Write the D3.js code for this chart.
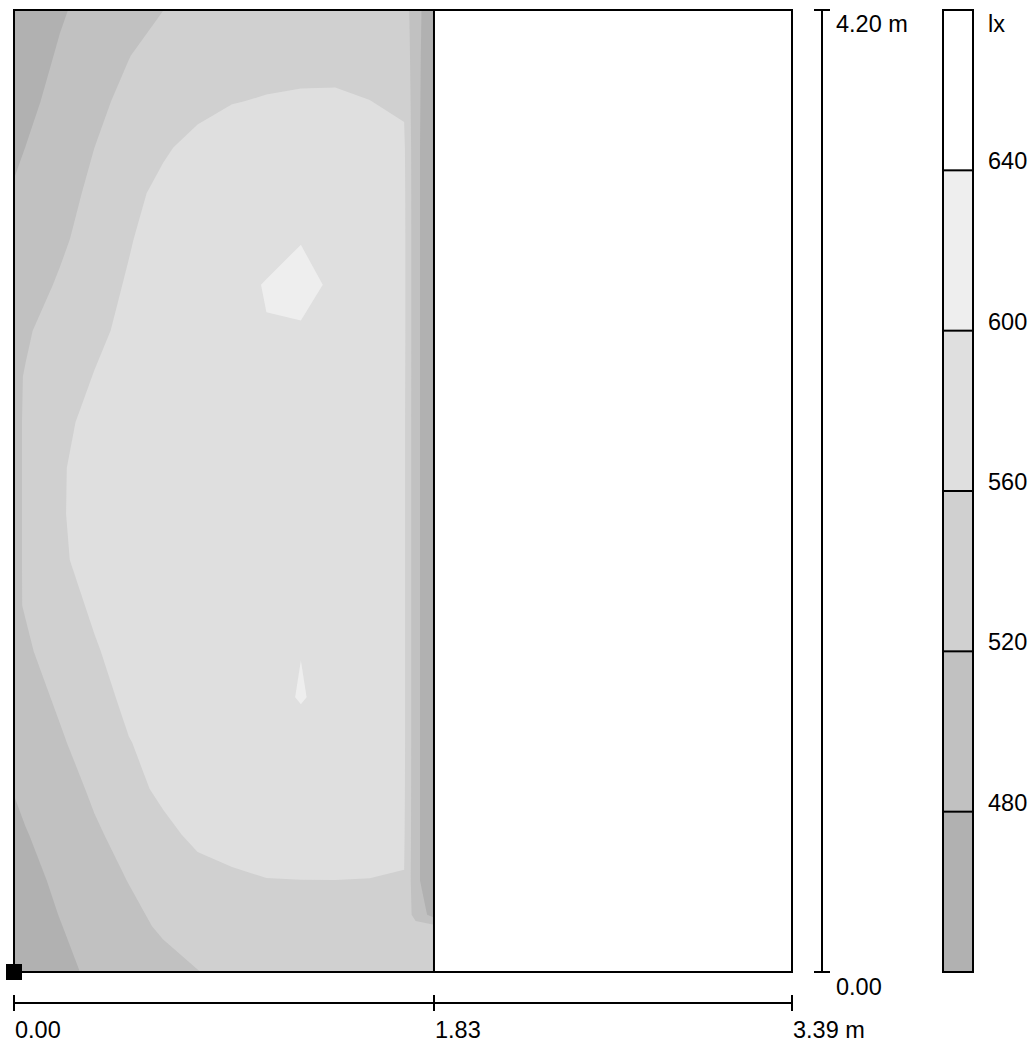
<!DOCTYPE html>
<html><head><meta charset="utf-8">
<script src="https://cdn.jsdelivr.net/npm/d3@7"></script>
<style>
body{margin:0;background:#fff}
svg{display:block}
text{font-family:"Liberation Sans",Arial,sans-serif;font-size:23.5px;fill:#000}
</style>
</head><body>
<svg id="chart" width="1032" height="1044"></svg>
<script>
// ---- data ----
const roomWidth = 3.39;          // m
const roomDepth = 4.20;          // m
const calcWidth = 1.83;          // m (calculated surface)
// calculation grid positions (m)
const gridX = [0, 0.05, 0.2, 0.35, 0.5, 0.65, 0.8, 0.95, 1.1, 1.25, 1.4, 1.55, 1.7, 1.75, 1.83];
const gridY = [4.2, 4.0, 3.8, 3.6, 3.4, 3.2, 3.0, 2.8, 2.6, 2.4, 2.2, 2.0, 1.8, 1.6, 1.4, 1.2, 1.0, 0.8, 0.6, 0.4, 0.25, 0.2, 0.0];
// illuminance (lx), one row per gridY, one column per gridX
const illuminance = [
  [457, 462, 476.6, 491, 505.6, 519.8, 532, 541, 547, 551, 552, 550, 540, 495, 448],
  [459.4, 465.4, 483.3, 501.2, 519.2, 533, 541, 546, 549, 550, 551, 552, 548, 493, 447],
  [464.6, 471.3, 491.2, 512.5, 528, 538, 548, 559, 562, 564, 564, 560.3, 556, 492, 446],
  [473.5, 480.2, 500.1, 519.9, 537.5, 555, 572, 576, 579, 581, 581, 577, 565, 491, 445],
  [483, 490, 506.5, 527.8, 549.2, 570, 578, 584, 588, 590, 589, 583, 567, 491, 445],
  [486, 492, 513.7, 535.3, 557, 578, 586, 591, 590, 599, 597, 588, 568, 491, 445],
  [497.6, 504.2, 524, 543.8, 563.7, 578, 587, 592, 601.5, 607, 596, 588, 568, 491, 445],
  [510.4, 516.3, 534, 551.6, 569.4, 580, 588, 593, 599, 598, 596, 589, 568, 491, 445],
  [514.8, 521.5, 541.4, 561.3, 575, 583, 589, 592, 594, 595, 594, 588, 567, 491, 445],
  [515, 522.2, 548.4, 574, 582, 587, 590, 592, 593, 594, 593, 587, 566, 491, 445],
  [515, 522.2, 556, 576, 584, 588, 590, 592, 593, 593, 592, 586, 566, 491, 445],
  [515, 522.2, 556.5, 576, 584, 588, 590, 591, 592, 592, 591, 585, 566, 491, 445],
  [515, 522.2, 554, 575, 583, 587, 589, 590, 591, 591, 590, 584, 566, 491, 445],
  [515, 522, 544, 566, 578, 584, 587, 589, 590, 591, 590, 584, 566, 491, 445],
  [508.2, 515.1, 535.7, 556.3, 576, 583, 587, 589, 590, 599.5, 590, 584, 566, 491, 445],
  [497.7, 504.8, 525.8, 546.9, 568, 579, 585, 588, 590, 602, 590, 584, 566, 491, 445],
  [486.9, 494, 515.6, 537, 558.6, 572, 580, 584, 587, 589, 588, 583, 566, 491, 445],
  [481.4, 489, 504, 525.9, 547.8, 568, 575, 579, 582, 584, 584, 580, 565, 491, 445],
  [472, 478.1, 496.5, 514.9, 532.8, 550.5, 568.3, 573, 575, 576, 576, 574, 563, 491, 445],
  [463.6, 469.3, 486.6, 503.8, 521, 536, 546.5, 554.7, 559.2, 559.8, 559.9, 559.3, 559.1, 491, 445],
  [459.8, 465, 480.8, 496.5, 512.3, 528, 538, 544, 548, 550, 551, 551, 548, 505, 465],
  [458.4, 463.5, 478.8, 494.2, 509.6, 525, 534, 540, 544, 546, 547, 547, 545, 532, 528],
  [458, 461.8, 473.3, 484.8, 496.3, 507.7, 519.2, 528, 533, 536, 537, 537, 536, 533, 530]
];
const thresholds = [480, 520, 560, 600, 640];
const bandColors = ["#b1b1b1", "#c1c1c1", "#d0d0d0", "#dfdfdf", "#eeeeee", "#ffffff"];
const legendDomain = [440, 680];
const legendLabels = ["640", "600", "560", "520", "480"];
const unitLabel = "lx";
const xTicks = [0, 1.83, 3.39];
const xTickLabels = ["0.00", "1.83", "3.39 m"];
const yTicks = [0, 4.20];
const yTickLabels = ["0.00", "4.20 m"];

// ---- scales ----
const svg = d3.select("#chart");
const x = d3.scaleLinear().domain([0, roomWidth]).range([14, 792]);
const y = d3.scaleLinear().domain([0, roomDepth]).range([972, 10]);
const nx = gridX.length, ny = gridY.length;
const gx = d3.scaleLinear().domain(d3.range(nx).map(i => i + 0.5)).range(gridX).clamp(true);
const gy = d3.scaleLinear().domain(d3.range(ny).map(i => i + 0.5)).range(gridY).clamp(true);
const proj = d3.geoTransform({point(px, py) { this.stream.point(x(gx(px)), y(gy(py))); }});
const path = d3.geoPath(proj);

// ---- isolux bands ----
const g = svg.append("g");
g.append("rect")
  .attr("x", x(0)).attr("y", y(roomDepth))
  .attr("width", x(calcWidth) - x(0)).attr("height", y(0) - y(roomDepth))
  .attr("fill", bandColors[0]);
const contours = d3.contours().size([nx, ny]).thresholds(thresholds)(illuminance.flat());
g.selectAll("path.band").data(contours).join("path")
  .attr("class", "band")
  .attr("d", path)
  .attr("fill", (d, i) => bandColors[i + 1]);

// ---- room outline ----
svg.append("rect")
  .attr("x", x(0)).attr("y", y(roomDepth))
  .attr("width", x(roomWidth) - x(0)).attr("height", y(0) - y(roomDepth))
  .attr("fill", "none").attr("stroke", "#000").attr("stroke-width", 2);
svg.append("line")
  .attr("x1", x(calcWidth)).attr("x2", x(calcWidth))
  .attr("y1", y(roomDepth)).attr("y2", y(0))
  .attr("stroke", "#000").attr("stroke-width", 2);
svg.append("rect")
  .attr("x", x(0) - 8).attr("y", y(0) - 8).attr("width", 16).attr("height", 16)
  .attr("fill", "#000");

// ---- horizontal scale bar ----
const hb = svg.append("g");
const barY = 1003;
hb.append("line").attr("x1", x(0)).attr("x2", x(roomWidth)).attr("y1", barY).attr("y2", barY)
  .attr("stroke", "#000").attr("stroke-width", 2);
hb.selectAll("line.t").data(xTicks).join("line").attr("class", "t")
  .attr("x1", d => x(d)).attr("x2", d => x(d)).attr("y1", barY - 8).attr("y2", barY + 8)
  .attr("stroke", "#000").attr("stroke-width", 2);
hb.selectAll("text").data(xTicks).join("text")
  .attr("x", d => x(d) + 1).attr("y", 1038)
  .text((d, i) => xTickLabels[i]);

// ---- vertical scale bar ----
const vb = svg.append("g");
const barX = 822;
vb.append("line").attr("x1", barX).attr("x2", barX).attr("y1", y(0)).attr("y2", y(roomDepth))
  .attr("stroke", "#000").attr("stroke-width", 2);
vb.selectAll("line.t").data(yTicks).join("line").attr("class", "t")
  .attr("x1", barX - 8).attr("x2", barX + 8).attr("y1", d => y(d)).attr("y2", d => y(d))
  .attr("stroke", "#000").attr("stroke-width", 2);
vb.selectAll("text").data(yTicks).join("text")
  .attr("x", 836).attr("y", d => y(d) + (d === 0 ? 23 : 22))
  .text((d, i) => yTickLabels[i]);

// ---- legend ----
const l = d3.scaleLinear().domain(legendDomain).range([972, 10]);
const lg = svg.append("g");
const edges = [legendDomain[0], ...thresholds, legendDomain[1]];
lg.selectAll("rect.b").data(d3.range(edges.length - 1)).join("rect").attr("class", "b")
  .attr("x", 943).attr("width", 30)
  .attr("y", i => l(edges[i + 1])).attr("height", i => l(edges[i]) - l(edges[i + 1]))
  .attr("fill", i => bandColors[i]);
lg.selectAll("line").data(thresholds).join("line")
  .attr("x1", 943).attr("x2", 973).attr("y1", d => l(d)).attr("y2", d => l(d))
  .attr("stroke", "#000").attr("stroke-width", 2);
lg.append("rect").attr("x", 943).attr("y", l(legendDomain[1])).attr("width", 30)
  .attr("height", l(legendDomain[0]) - l(legendDomain[1]))
  .attr("fill", "none").attr("stroke", "#000").attr("stroke-width", 2);
lg.selectAll("text.v").data(legendLabels).join("text").attr("class", "v")
  .attr("x", 988).attr("y", d => l(+d) - 1).text(d => d);
lg.append("text").attr("x", 988).attr("y", 32).text(unitLabel);
</script>
</body></html>
